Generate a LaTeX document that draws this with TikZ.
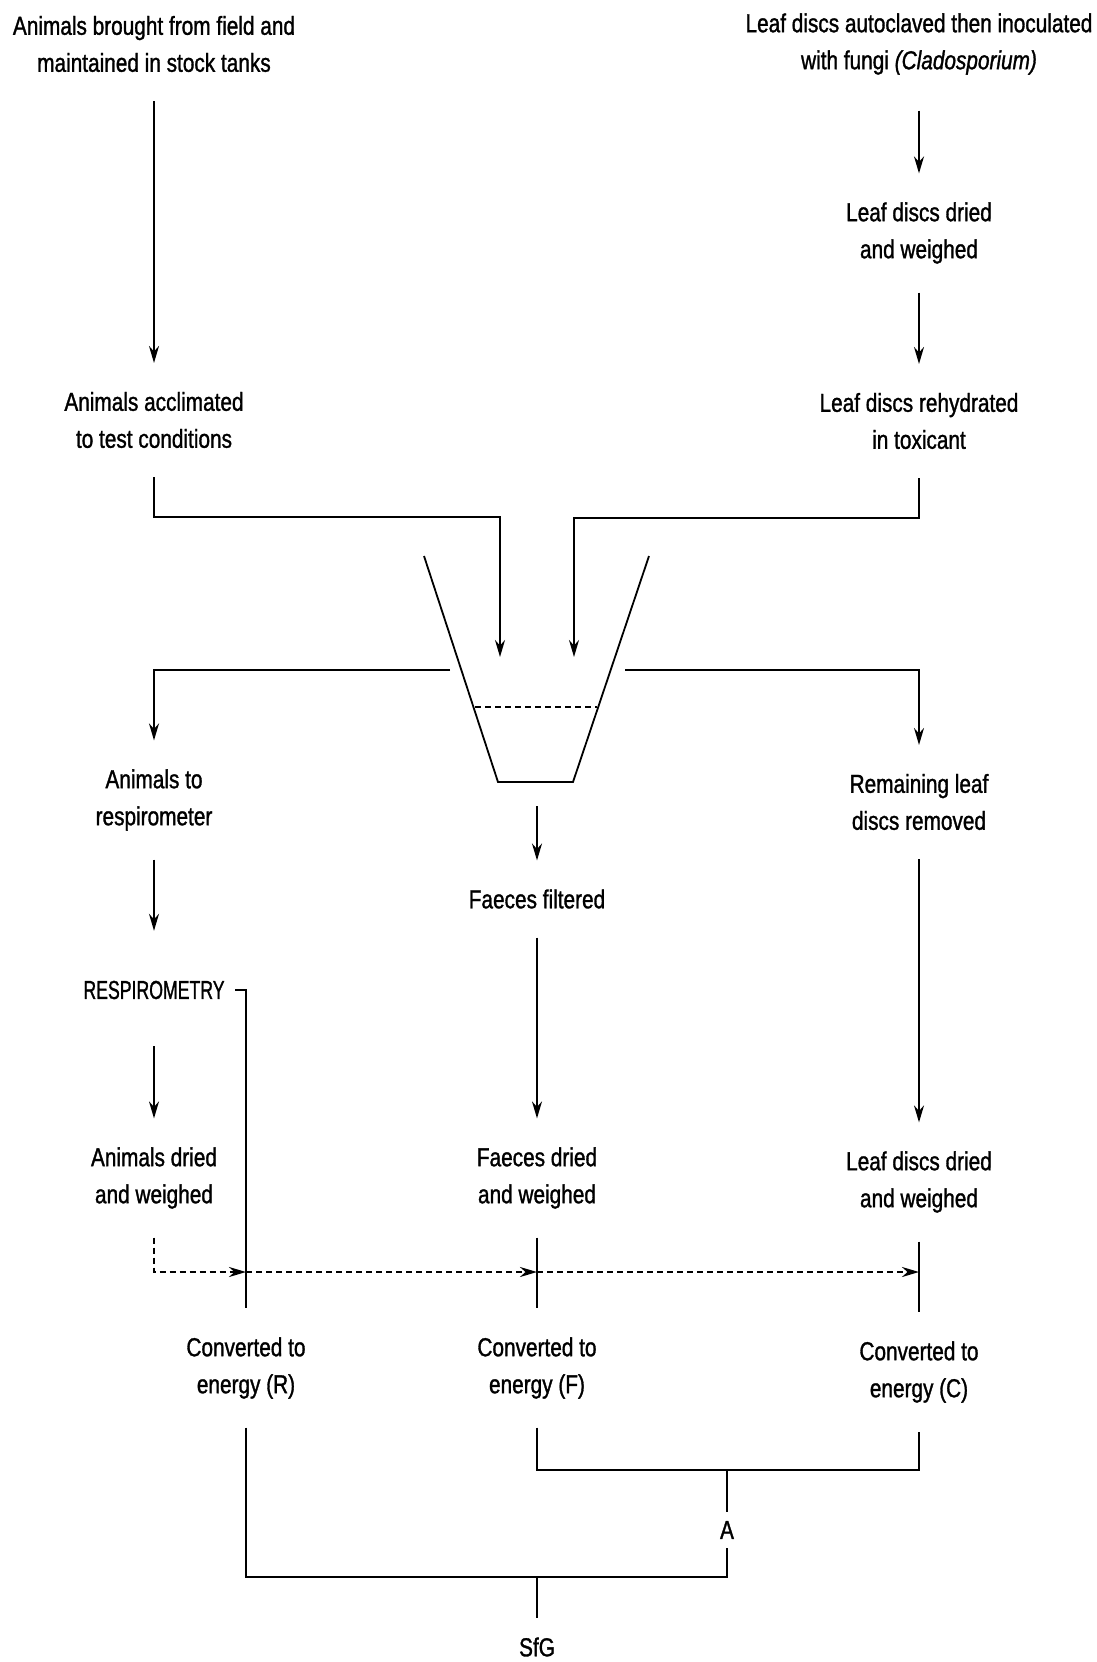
\documentclass[tikz,border=0pt]{standalone}
\usepackage{fontspec}
\setmainfont[FakeStretch=0.8,FakeBold=1.2]{Liberation Sans}
\usetikzlibrary{arrows.meta}

\begin{document}
\begin{tikzpicture}[x=1pt,y=-1pt,line width=1.8pt,
    txt/.style={align=center,font=\fontsize{26}{37}\selectfont,inner sep=0pt,outer ysep=29pt},
    lbl/.style={font=\fontsize{26}{37}\selectfont,inner xsep=2pt,inner ysep=8pt},
    arr/.style={-{Stealth[length=17pt,width=10pt]}},
    dsh/.style={line width=2.4pt,dash pattern=on 6pt off 4pt}]
    \useasboundingbox (0,0) rectangle (1097,1662);
    \node[txt] (catch) at (154,44) {Animals brought from field and\\maintained in stock tanks};
    \node[txt] (accl) at (154,420) {Animals acclimated\\to test conditions};
    \node[txt] (inoc) at (919,44) {Leaf discs autoclaved then inoculated\\with fungi \textit{(Cladosporium)}};
    \node[txt] (dryL) at (919,233) {Leaf discs dried\\and weighed};
    \node[txt] (rehyd) at (919,421) {Leaf discs rehydrated\\in toxicant};
    \node[txt] (toresp) at (154,800) {Animals to\\respirometer};
    \node[txt] (filt) at (537,899) {Faeces filtered};
    \node[txt] (remain) at (919,802) {Remaining leaf\\discs removed};
    \node[txt] (resp) at (154,990) {\scalebox{0.85}[1]{RESPIROMETRY}};
    \node[txt] (deadA) at (154,1178) {Animals dried\\and weighed};
    \node[txt] (dryF) at (537,1178) {Faeces dried\\and weighed};
    \node[txt] (dryC) at (919,1182) {Leaf discs dried\\and weighed};
    \node[txt] (convR) at (246,1368) {Converted to\\energy (R)};
    \node[txt] (convF) at (537,1368) {Converted to\\energy (F)};
    \node[txt] (convC) at (919,1372) {Converted to\\energy (C)};
    \node[lbl] (A) at (727,1530) {A};
    \node[lbl,inner ysep=19pt] (sfg) at (537,1647) {SfG};

    \coordinate (inL) at (500,657);
    \coordinate (inR) at (574,657);
    \coordinate (bl) at (450,670);
    \coordinate (br) at (625,670);
    \coordinate (fout) at (537,806);
    \coordinate (dR) at (246,1272);
    \coordinate (dF) at (537,1272);
    \coordinate (dC) at (919,1272);
    \coordinate (jFC) at (727,1470);
    \coordinate (jS) at (537,1577);

    \draw (424,556) -- (498,782) -- (573,782) -- (649,556);
    \draw[dsh,line width=2pt] (475,707) -- (597,707);

    \draw[arr] (catch) -- (accl);
    \draw[arr,shorten <=7pt] (inoc) -- (dryL);
    \draw[arr] (dryL) -- (rehyd);
    \draw[arr] (accl.south) -- ++(0,40) -| (inL);
    \draw[arr] (rehyd.south) -- ++(0,40) -| (inR);
    \draw[arr] (bl) -| (toresp);
    \draw[arr] (br) -| (remain);
    \draw[arr] (fout) -- (filt);
    \draw[arr,shorten >=21pt] (toresp) -- (resp);
    \draw[arr,shorten <=18pt] (resp) -- (deadA);
    \draw[arr] (filt) -- (dryF);
    \draw[arr] (remain) -- (dryC);
    \draw[shorten <=10pt] (resp.east) -| (convR.north);
    \draw (dryF) -- (convF);
    \draw (dryC) -- (convC);
    \draw[arr,dsh] (deadA.south) |- (dR);
    \draw[arr,dsh] (dR) -- (dF);
    \draw[arr,dsh] (dF) -- (dC);
    \draw (convF.south) |- (jFC) -| (convC.south);
    \draw (jFC) -- (A);
    \draw (convR.south) |- (jS) -| (A);
    \draw (jS) -- (sfg);
\end{tikzpicture}
\end{document}
